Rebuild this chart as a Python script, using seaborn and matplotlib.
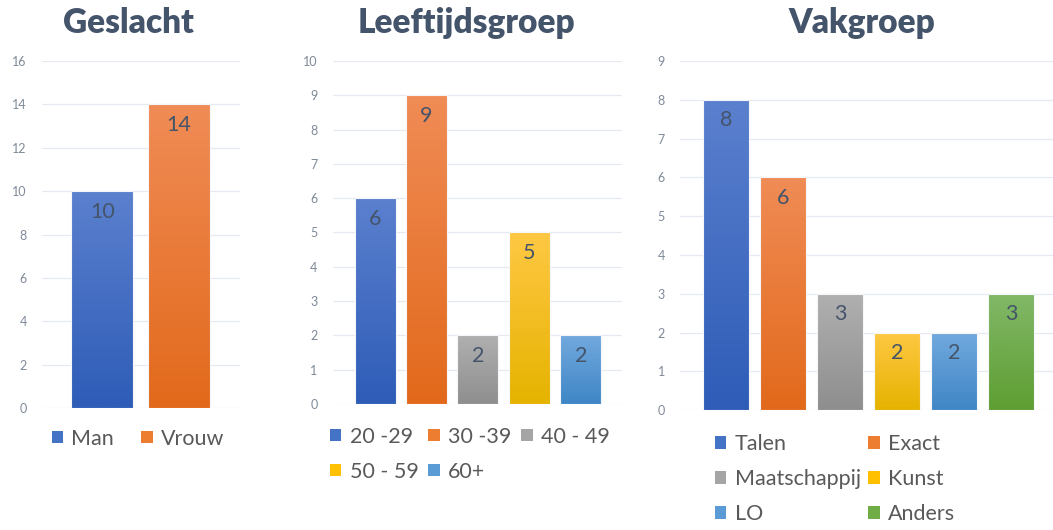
import matplotlib
matplotlib.use("Agg")
import matplotlib.pyplot as plt
from matplotlib.patches import Patch
from matplotlib.colors import to_rgb
import numpy as np
import pandas as pd
import seaborn as sns

# ==========================================================
# Data
# ==========================================================

gender_labels = ["Man", "Vrouw"]
gender_counts = [10, 14]

age_labels = ["20 -29", "30 -39", "40 - 49", "50 - 59", "60+"]
age_counts = [6, 9, 2, 5, 2]

dept_labels = ["Talen", "Exact", "Maatschappij", "Kunst", "LO", "Anders"]
dept_counts = [8, 6, 3, 2, 2, 3]

# Office style colours: (legend, gradient top, gradient bottom)
blue = ("#4472C4", "#5B80CE", "#2E5CB7")
orange = ("#ED7D31", "#F08C56", "#E2691B")
gray = ("#A5A5A5", "#B0B0B0", "#8E8E8E")
yellow = ("#FFC000", "#FFC844", "#E5B300")
lightblue = ("#5B9BD5", "#72A9DE", "#3F86C6")
green = ("#70AD47", "#82B868", "#5E9E32")

gender_colors = [blue, orange]
age_colors = [blue, orange, gray, yellow, lightblue]
dept_colors = [blue, orange, gray, yellow, lightblue, green]

title_color = "#44546A"
tick_color = "#7F8A99"
legend_color = "#595959"
grid_color = "#E6EAF0"

sns.set_theme(style="white")
plt.rcParams["font.family"] = ["Lato", "DejaVu Sans"]

fig = plt.figure(figsize=(10.53, 5.30), dpi=100)


def gradient_bars(ax, colors):
    xlim, ylim = ax.get_xlim(), ax.get_ylim()
    for patch, col in zip(ax.patches, colors):
        x0 = patch.get_x()
        w = patch.get_width()
        h = patch.get_height()
        top = np.array(to_rgb(col[1]))
        bot = np.array(to_rgb(col[2]))
        t = np.linspace(0, 1, 200)[:, None]
        img = (bot + (top - bot) * t)[:, None, :]
        im = ax.imshow(img, extent=[x0, x0 + w, 0, h], origin="lower",
                       aspect="auto", zorder=2)
        im.set_clip_path(patch)
        patch.set_facecolor("none")
        patch.set_edgecolor("#F4F6FA")
        patch.set_linewidth(0.8)
        patch.set_zorder(3)
    ax.set_xlim(xlim)
    ax.set_ylim(ylim)


def panel(rect, labels, counts, colors, ymax, ystep, xlim, title, title_x,
          ncol, order, leg_anchor, width, colspace):
    ax = fig.add_axes(rect)
    df = pd.DataFrame({"cat": labels, "n": counts})
    sns.barplot(data=df, x="cat", y="n", hue="cat",
                palette=[c[0] for c in colors], width=width,
                legend=False, ax=ax)
    ax.set_ylim(0, ymax)
    ax.set_xlim(*xlim)
    gradient_bars(ax, colors)

    for c in ax.containers:
        ax.bar_label(c, padding=-22, fontsize=15.5, color=title_color)

    ax.set_yticks(np.arange(0, ymax + 0.1, ystep))
    ax.set_xticks([])
    ax.set_xlabel("")
    ax.set_ylabel("")
    ax.tick_params(axis="y", length=0, pad=11, labelsize=9,
                   labelcolor=tick_color)
    ax.grid(axis="y", color=grid_color, linewidth=0.9)
    ax.set_axisbelow(True)
    sns.despine(ax=ax, left=True, bottom=True)

    fig.text(title_x, 0.957, title, ha="center", va="center",
             fontsize=24, fontweight="heavy", color=title_color)

    handles = [Patch(facecolor=c[0], edgecolor="none") for c in colors]
    h = [handles[i] for i in order]
    l = [labels[i] for i in order]
    ax.legend(h, l, ncol=ncol, loc="upper left",
              bbox_to_anchor=leg_anchor, bbox_transform=fig.transFigure,
              frameon=False, fontsize=15.5, labelcolor=legend_color,
              handlelength=0.52, handleheight=0.52, handletextpad=0.4,
              columnspacing=colspace, labelspacing=0.7, borderaxespad=0,
              borderpad=0)
    return ax


panel([0.040, 0.230, 0.188, 0.655], gender_labels, gender_counts,
      gender_colors, 16, 2, (-0.784, 1.80), "Geslacht", 0.122,
      2, [0, 1], (0.049, 0.191), 0.81, 1.27)

panel([0.316, 0.238, 0.275, 0.647], age_labels, age_counts,
      age_colors, 10, 1, (-0.825, 4.81), "Leeftijdsgroep", 0.443,
      3, [0, 3, 1, 4, 2], (0.3135, 0.195), 0.80, 0.45)

panel([0.646, 0.226, 0.354, 0.659], dept_labels, dept_counts,
      dept_colors, 9, 1, (-0.81, 5.74), "Vakgroep", 0.818,
      2, [0, 2, 4, 1, 3, 5], (0.679, 0.181), 0.81, 0.35)

fig.savefig("out.png", dpi=100)
